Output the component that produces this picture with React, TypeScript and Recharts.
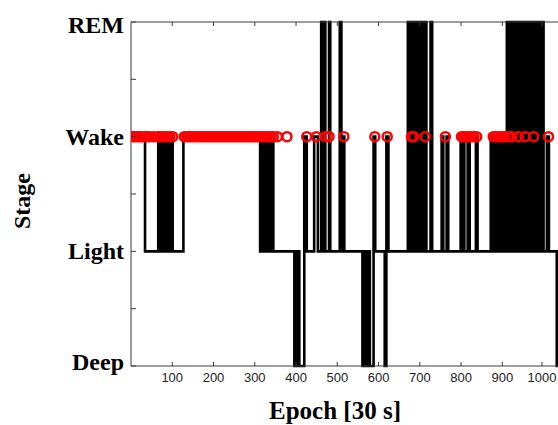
import React from 'react';
import { ComposedChart, Line, Scatter, XAxis, YAxis } from 'recharts';

// sleep stage codes: 0 = Deep, 1 = Light, 2 = Wake, 3 = REM
const stageNames = ['Deep', 'Light', 'Wake', 'REM'];
const stageTicks = [0, 0.5, 1, 1.5, 2, 2.5, 3];
const epochTicks = [100, 200, 300, 400, 500, 600, 700, 800, 900, 1000];

// hypnogram: epoch where the stage changes, and the new stage
const changeEpochs = [
  0, 34,
  66, 68, 70, 72, 74, 76, 78, 80, 82, 84, 86, 88, 90, 92, 94, 96, 98, 101,
  127,
  313, 315, 317, 319, 321, 323, 325, 327, 329, 331, 333, 335, 337, 339, 341, 343, 345,
  396, 399, 402, 405, 408, 420, 426, 444, 453,
  461, 463, 465, 467, 469, 471, 474, 480, 483,
  506, 510, 513, 517,
  561, 564, 567, 570, 573, 576, 579, 588, 592,
  615, 619, 624,
  671, 674, 677, 680, 683, 686, 689, 692, 695, 698, 701, 704, 707, 710, 713, 716,
  726, 730,
  753, 757, 765, 769,
  799, 802, 805, 808, 816, 821, 836, 840,
  872, 875, 878, 881, 884, 887, 893, 897, 900, 903, 906, 909,
  911, 914, 917, 920, 923, 926, 929, 932,
  935, 938, 941, 944, 947, 950, 953, 956, 959, 962,
  968, 971, 974, 977, 980, 983, 986, 989, 992, 995, 997, 1000,
  1008, 1013, 1032, 1035,
];
const changeStages = [
  2, 1,
  2, 1, 2, 1, 2, 1, 2, 1, 2, 1, 2, 1, 2, 1, 2, 1, 2, 1,
  2,
  1, 2, 1, 2, 1, 2, 1, 2, 1, 2, 1, 2, 1, 2, 1, 2, 1,
  0, 1, 0, 1, 0, 2, 1, 2, 1,
  3, 1, 3, 1, 3, 1, 1, 3, 1,
  3, 1, 2, 1,
  0, 1, 0, 1, 0, 1, 0, 2, 1,
  0, 2, 1,
  3, 1, 3, 1, 3, 1, 3, 1, 3, 1, 3, 1, 3, 1, 3, 1,
  3, 1,
  2, 1, 2, 1,
  2, 1, 2, 1, 2, 1, 2, 1,
  2, 1, 2, 1, 2, 1, 2, 1, 2, 1, 2, 1,
  3, 1, 3, 1, 3, 1, 3, 1,
  3, 1, 3, 1, 3, 1, 3, 1, 3, 1,
  3, 1, 3, 1, 3, 1, 3, 1, 3, 1, 3, 1,
  2, 1, 0, 0,
];

// epochs scored as wake (red circles)
const wakeEpochs = [
  5, 10, 15, 20, 26, 32, 38, 44, 54, 64, 70, 76, 82, 88, 94, 101,
  129, 135, 141, 147, 153, 159, 165, 171, 177, 183, 189, 195, 201, 207, 213,
  219, 225, 231, 237, 243, 249, 255, 261, 267, 273, 279, 285, 291, 297, 303,
  309, 315, 321, 327, 333, 339, 345, 355, 378,
  426, 449, 472, 480, 516, 591, 621, 680, 685, 713, 762,
  801, 806, 812, 818, 824, 831, 838,
  878, 884, 890, 896, 902, 907, 915, 923, 939, 955, 976, 1012,
];

const hypnoData = changeEpochs.map((e, i) => ({ epoch: e, stage: changeStages[i] }));
const wakeData = wakeEpochs.map((e) => ({ epoch: e, stage: 2 }));

const serif = "'Liberation Serif', 'Times New Roman', serif";
const axisColor = '#3a3a3a';

const StageTick = (props: any) => {
  const { x, y, payload } = props;
  const v = payload.value;
  const name = Number.isInteger(v) ? stageNames[v] : '';
  const dy = v === 3 ? 11 : v === 0 ? 4 : 8;
  return (
    <g>
      <line x1={x} y1={y} x2={x + 5} y2={y} stroke={axisColor} />
      {name && (
        <text x={x - 7} y={y + dy} textAnchor='end' fontFamily={serif} fontWeight='bold' fontSize={24} fill='#000'>
          {name}
        </text>
      )}
    </g>
  );
};

const EpochTick = (props: any) => {
  const { x, y, payload } = props;
  return (
    <g>
      <line x1={x} y1={y} x2={x} y2={y - 4} stroke={axisColor} />
      <text x={x} y={y + 16} textAnchor='middle' fontFamily="'Liberation Sans', Arial, sans-serif" fontSize={13} fill='#222'>
        {payload.value}
      </text>
    </g>
  );
};

const TopTick = (props: any) => {
  const { x, y } = props;
  return <line x1={x} y1={y} x2={x} y2={y + 4} stroke={axisColor} />;
};

const WakeCircle = (props: any) => (
  <circle cx={props.cx} cy={props.cy} r={4.5} fill='none' stroke='#ff0000' strokeWidth={2.5} />
);

const App = () => {
  return (
    <div style={{ position: 'absolute', left: 0, top: 0 }}>
      <ComposedChart
        width={558}
        height={425}
        margin={{ top: 21, right: 0, bottom: 19, left: 130 }}
      >
        <XAxis
          xAxisId='top'
          orientation='top'
          type='number'
          dataKey='epoch'
          domain={[0, 1035]}
          ticks={epochTicks}
          height={1}
          tickSize={0}
          tickMargin={0}
          tick={<TopTick />}
          stroke={axisColor}
          allowDataOverflow
        />
        <XAxis
          type='number'
          dataKey='epoch'
          domain={[0, 1035]}
          ticks={epochTicks}
          height={40}
          tickSize={0}
          tickMargin={0}
          tick={<EpochTick />}
          stroke={axisColor}
          allowDataOverflow
          label={{
            content: () => (
              <text x={335} y={419} textAnchor='middle' fontFamily={serif} fontWeight='bold' fontSize={25} fill='#000'>
                Epoch [30 s]
              </text>
            ),
          }}
        />
        <YAxis
          type='number'
          domain={[0, 3]}
          ticks={stageTicks}
          width={1}
          tickSize={0}
          tickMargin={0}
          tick={<StageTick />}
          stroke={axisColor}
          label={{
            content: () => (
              <text
                x={30}
                y={201}
                textAnchor='middle'
                fontFamily={serif}
                fontWeight='bold'
                fontSize={24}
                fill='#000'
                transform='rotate(-90, 30, 201)'
              >
                Stage
              </text>
            ),
          }}
        />
        <Line
          data={hypnoData}
          dataKey='stage'
          type='stepAfter'
          stroke='#000'
          strokeWidth={2.6}
          dot={false}
          isAnimationActive={false}
        />
        <Scatter
          data={wakeData}
          dataKey='stage'
          shape={<WakeCircle />}
          isAnimationActive={false}
        />
      </ComposedChart>
    </div>
  );
};

export default App;
